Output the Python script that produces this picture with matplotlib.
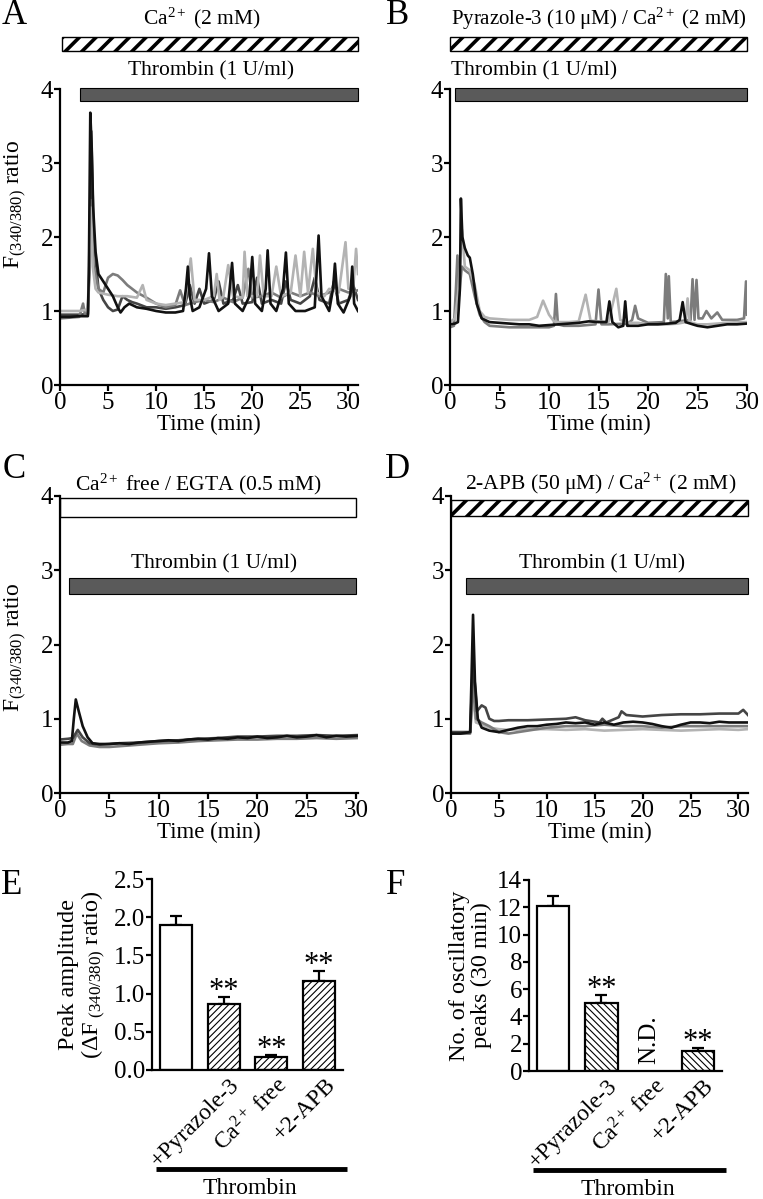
import matplotlib
matplotlib.use("Agg")
import matplotlib.pyplot as plt
from matplotlib.patches import Rectangle
from matplotlib.transforms import ScaledTranslation

plt.rcParams['font.family'] = ['Liberation Serif', 'DejaVu Serif']
plt.rcParams['mathtext.fontset'] = 'custom'
plt.rcParams['mathtext.rm'] = 'Liberation Serif'
plt.rcParams['mathtext.it'] = 'Liberation Serif:italic'

# ---- Panel A: Ca2+ 2 mM ----
a_t_dark = [0, 2, 2.9, 3.05, 3.25, 3.5, 4, 4.5, 5, 5.5, 6, 6.5, 7, 7.5, 8, 9, 10, 11, 12, 13, 13.5, 14, 14.5,
            15, 16, 16.5, 17, 18, 18.5, 19, 20, 20.5, 21, 22, 23, 23.5, 24, 25, 26, 26.5, 27, 28, 28.5, 29, 30, 30.5, 31]
a_y_dark = [0.95, 0.95, 0.96, 1.6, 3.43, 2.0, 1.3, 1.15, 1.05, 1.0, 1.02, 1.2, 1.15, 1.12, 1.1, 1.05, 1.05, 1.03, 1.05,
            1.08, 1.35, 1.1, 1.3, 1.1, 1.15, 1.4, 1.1, 1.15, 1.35, 1.1, 1.12, 1.45, 1.1, 1.15, 1.1, 1.4, 1.15, 1.1, 1.2,
            1.45, 1.15, 1.1, 1.4, 1.1, 1.15, 1.35, 1.15]
a_t_mid = [0, 2, 2.4, 2.6, 2.9, 3.05, 3.2, 3.5, 4, 4.5, 5, 5.5, 6, 6.5, 7, 8, 9, 10, 11, 12, 12.5, 13, 14, 15, 16,
           17, 18, 19, 19.6, 20, 21, 22, 23, 24, 25, 26, 27, 28, 29, 30, 31]
a_y_mid = [0.9, 0.92, 1.1, 0.95, 0.95, 1.5, 2.5, 1.6, 1.3, 1.25, 1.45, 1.5, 1.48, 1.42, 1.35, 1.25, 1.18, 1.1, 1.05,
           1.08, 1.28, 1.08, 1.12, 1.15, 1.12, 1.18, 1.12, 1.18, 1.57, 1.18, 1.2, 1.25, 1.18, 1.25, 1.2, 1.25, 1.2,
           1.25, 1.3, 1.25, 1.28]
a_t_light = [0, 2, 2.9, 3.05, 3.2, 3.4, 3.7, 4, 5, 6, 7, 8, 8.6, 9, 10, 11, 12, 13, 13.6, 14, 15, 16, 16.3, 16.6,
             17, 17.5, 18, 19, 19.2, 19.5, 20.5, 20.8, 21.2, 22, 22.5, 23, 24, 24.5, 25, 25.4, 25.8, 26.3, 26.7,
             27.5, 28, 29, 29.7, 30, 30.5, 30.8, 31]
a_y_light = [1.0, 1.0, 1.02, 1.8, 2.4, 1.6, 1.3, 1.25, 1.22, 1.2, 1.2, 1.18, 1.35, 1.15, 1.1, 1.08, 1.1, 1.12, 1.71,
             1.15, 1.15, 1.2, 1.5, 1.15, 1.2, 1.62, 1.2, 1.18, 1.8, 1.2, 1.2, 1.75, 1.2, 1.2, 1.6, 1.2, 1.25, 1.75,
             1.2, 1.8, 1.25, 1.84, 1.25, 1.2, 1.3, 1.25, 1.93, 1.3, 1.3, 1.84, 1.5]
a_t_black = [0, 1, 2, 2.9, 3.0, 3.15, 3.3, 3.45, 3.7, 4.0, 4.5, 5.0, 5.5, 6.0, 6.3, 6.7, 7.2, 8, 9, 10, 11, 12, 12.8,
             13.1, 13.3, 13.5, 13.8, 14.5, 15.2, 15.5, 15.8, 16.5, 17.5, 17.9, 18.2, 19.0, 19.7, 20.0, 20.3, 21.0,
             21.4, 21.6, 21.9, 22.5, 23.2, 23.5, 23.8, 24.5, 25.5, 26.5, 26.9, 27.2, 28.0, 28.4, 28.6, 28.9, 29.5,
             30.2, 30.4, 30.6, 31]
a_y_black = [0.92, 0.92, 0.93, 0.93, 1.5, 3.68, 3.2, 2.4, 1.8, 1.5, 1.4, 1.3, 1.2, 1.05, 0.98, 1.05, 1.1, 1.05, 1.03,
             1.0, 0.98, 0.98, 1.0, 1.3, 1.6, 1.2, 1.0, 1.05, 1.3, 1.78, 1.2, 1.0, 1.1, 1.65, 1.1, 1.0, 1.2, 1.73, 1.1,
             1.0, 1.3, 1.82, 1.1, 1.0, 1.3, 1.79, 1.1, 1.0, 1.0, 1.05, 2.02, 1.2, 1.0, 1.3, 1.64, 1.1, 0.98, 1.2,
             1.6, 1.1, 1.0]

# ---- Panel B: Pyrazole-3 ----
b_t_dark = [0, 0.4, 0.6, 0.75, 0.9, 1.2, 1.5, 2.0, 2.5, 3.0, 3.5, 4, 6, 8, 10, 10.5, 10.7, 10.9, 11.5, 13, 14.7,
            15.0, 15.3, 16, 18, 18.4, 18.7, 19.0, 20, 21.6, 21.8, 22.0, 22.1, 22.3, 23, 24.3, 24.5, 24.7, 24.9, 25.1,
            25.5, 25.9, 26.4, 27.0, 27.5, 29, 29.7, 29.9, 30]
b_y_dark = [0.78, 0.8, 1.3, 1.75, 1.2, 1.6, 1.55, 1.5, 1.2, 0.95, 0.85, 0.8, 0.78, 0.78, 0.78, 0.8, 1.23, 0.82, 0.8,
            0.8, 0.82, 1.29, 0.82, 0.82, 0.83, 0.88, 1.07, 0.9, 0.84, 0.85, 1.5, 0.9, 1.47, 0.85, 0.86, 0.88, 1.43,
            0.88, 1.42, 0.9, 0.9, 1.0, 0.9, 0.98, 0.88, 0.88, 0.9, 1.4, 0.95]
b_t_light = [0, 0.5, 0.8, 1.0, 1.2, 1.5, 2.0, 2.5, 3.0, 3.5, 4, 5, 6, 7, 8, 8.8, 9.4, 10, 10.5, 11, 12, 13, 13.7,
             14.2, 15, 16, 16.8, 17.2, 18, 19, 20, 21, 22, 23, 23.8, 24.0, 24.2, 25, 26, 27, 28, 29, 30]
b_y_light = [0.85, 0.9, 1.2, 1.6, 2.1, 1.6, 1.55, 1.35, 1.0, 0.92, 0.9, 0.89, 0.88, 0.88, 0.88, 0.92, 1.14, 0.95,
             0.86, 0.85, 0.85, 0.86, 1.22, 0.87, 0.86, 0.85, 1.3, 0.88, 0.84, 0.84, 0.82, 0.82, 0.82, 0.83, 0.85,
             1.17, 0.85, 0.82, 0.82, 0.83, 0.84, 0.85, 0.85]
b_t_black = [0, 0.5, 0.8, 1.0, 1.1, 1.25, 1.5, 1.8, 2.0, 2.3, 2.7, 3.2, 4, 5, 6, 7, 8, 9, 10, 11, 12, 13, 14, 15,
             15.8, 16.1, 16.4, 17, 17.5, 17.7, 17.9, 19, 20, 21, 22, 22.8, 23.2, 23.5, 23.8, 24.5, 25, 26, 27, 28,
             29, 30]
b_y_black = [0.82, 0.83, 0.85, 1.3, 2.52, 2.0, 1.85, 1.75, 1.72, 1.5, 1.1, 0.9, 0.85, 0.84, 0.83, 0.82, 0.82, 0.8,
             0.81, 0.82, 0.83, 0.84, 0.86, 0.85, 0.85, 1.13, 0.85, 0.78, 0.8, 1.13, 0.8, 0.8, 0.82, 0.82, 0.83, 0.84,
             0.88, 1.12, 0.85, 0.82, 0.8, 0.78, 0.8, 0.82, 0.82, 0.83]

# ---- Panel C: Ca2+ free / EGTA ----
c_t_light = [0, 0.8, 1.3, 1.7, 2.2, 3, 4, 5, 6, 8, 10, 12, 14, 16, 18, 20, 22, 24, 26, 28, 30.2]
c_y_light = [0.65, 0.66, 0.66, 0.8, 0.7, 0.64, 0.62, 0.62, 0.63, 0.65, 0.67, 0.68, 0.7, 0.71, 0.72, 0.72, 0.73,
             0.73, 0.74, 0.73, 0.74]
c_t_gray = [0, 0.8, 1.3, 1.8, 2.3, 3, 4, 5, 6, 8, 10, 12, 14, 16, 18, 20, 22, 24, 26, 28, 30.2]
c_y_gray = [0.72, 0.73, 0.74, 0.85, 0.75, 0.67, 0.65, 0.66, 0.67, 0.68, 0.7, 0.71, 0.73, 0.74, 0.76, 0.76, 0.77,
            0.77, 0.78, 0.77, 0.78]
c_t_black = [0, 0.8, 1.2, 1.4, 1.6, 1.9, 2.3, 2.8, 3.3, 4, 5, 6, 7, 8, 9, 10, 11, 12, 13, 14, 15, 16, 17, 18, 19,
             20, 21, 22, 23, 24, 25, 26, 27, 28, 29, 30.2]
c_y_black = [0.68, 0.68, 0.7, 1.0, 1.26, 1.1, 0.9, 0.75, 0.67, 0.66, 0.66, 0.67, 0.66, 0.68, 0.69, 0.7, 0.71, 0.7,
             0.72, 0.73, 0.72, 0.74, 0.73, 0.75, 0.74, 0.76, 0.74, 0.75, 0.77, 0.75, 0.76, 0.78, 0.75, 0.77, 0.76,
             0.77]

# ---- Panel D: 2-APB ----
d_t_light = [0, 2.0, 2.3, 2.6, 3.2, 4, 5, 6, 8, 10, 12, 14, 16, 18, 20, 22, 24, 26, 28, 30, 31]
d_y_light = [0.82, 0.82, 1.3, 0.95, 0.92, 0.88, 0.86, 0.85, 0.86, 0.86, 0.85, 0.86, 0.84, 0.85, 0.86, 0.85, 0.84,
             0.85, 0.86, 0.85, 0.86]
d_t_gray = [0, 2.0, 2.3, 2.6, 3.2, 4, 5, 6, 8, 10, 12, 14, 16, 18, 20, 22, 24, 26, 28, 30, 31]
d_y_gray = [0.8, 0.8, 1.5, 1.0, 0.95, 0.9, 0.82, 0.8, 0.84, 0.88, 0.9, 0.9, 0.92, 0.9, 0.9, 0.88, 0.9, 0.9, 0.9,
            0.9, 0.9]
d_t_dark = [0, 2.0, 2.3, 2.7, 3.2, 3.6, 4, 4.5, 5, 6, 8, 10, 12, 13, 14, 15.5, 15.8, 16.2, 17.5, 17.8, 18.3, 20,
            22, 24, 26, 28, 30, 30.5, 31]
d_y_dark = [0.82, 0.82, 1.8, 1.1, 1.18, 1.15, 1.0, 0.97, 0.97, 0.98, 0.98, 0.99, 1.0, 1.02, 0.98, 0.95, 1.0, 0.95,
            1.02, 1.1, 1.05, 1.03, 1.05, 1.06, 1.06, 1.07, 1.07, 1.12, 1.05]
d_t_black = [0, 1, 2.0, 2.15, 2.3, 2.5, 2.8, 3.2, 4, 5, 6, 7, 8, 9, 10, 11, 12, 13, 14, 15, 16, 17, 18, 19, 20, 21,
             22, 23, 24, 25, 26, 27, 28, 29, 30, 31]
d_y_black = [0.8, 0.8, 0.82, 1.6, 2.4, 1.5, 1.0, 0.88, 0.84, 0.82, 0.85, 0.88, 0.9, 0.9, 0.92, 0.93, 0.95, 0.94,
             0.95, 0.92, 0.95, 0.92, 0.95, 0.96, 0.95, 0.93, 0.9, 0.88, 0.92, 0.95, 0.95, 0.94, 0.96, 0.95, 0.95, 0.95]

# ---- Panels E / F: summary bars ----
bar_labels = ['', '+Pyrazole-3', 'Ca$^{2+}$ free', '+2-APB']
peak_amp = [1.9, 0.87, 0.17, 1.17]
peak_amp_err = [0.11, 0.09, 0.03, 0.13]
osc_peaks = [12.1, 5.0, 0.0, 1.5]
osc_peaks_err = [0.7, 0.6, 0.0, 0.2]
osc_detected = [True, True, False, True]
significant = [False, True, True, True]

W, H = 763, 1199
BLACK, DARK, MID, LIGHT = '#111111', '#454545', '#7c7c7c', '#b3b3b3'


def px_axes(fig, left, top, right, bottom):
    # convert pixel box to figure fractions
    return fig.add_axes([left / W, 1 - bottom / H, (right - left) / W, (bottom - top) / H])


def style_axes(ax):
    for s in ('top', 'right'):
        ax.spines[s].set_visible(False)
    for s in ('left', 'bottom'):
        ax.spines[s].set_linewidth(1.6)
    ax.tick_params(direction='out', length=4, width=1.6, labelsize=18, pad=1)


def add_bar(ax, x0, x1, y0, y1, kind):
    # treatment bar drawn above the traces
    if kind == 'hatch':
        with plt.rc_context({'hatch.linewidth': 2.6}):
            p = Rectangle((x0, y0), x1 - x0, y1 - y0, facecolor='white', edgecolor='black',
                          hatch='//', lw=1.0, clip_on=False)
    elif kind == 'open':
        p = Rectangle((x0, y0), x1 - x0, y1 - y0, facecolor='white', edgecolor='black', lw=1.0, clip_on=False)
    else:
        p = Rectangle((x0, y0), x1 - x0, y1 - y0, facecolor='#5a5a5a', edgecolor='black', lw=0.8, clip_on=False)
    ax.add_patch(p)


def trace_panel(ax, traces, xmax, ylabel):
    for t, y, c in traces:
        ax.plot(t, y, color=c, lw=1.9, solid_joinstyle='round')
    ax.set_xlim(0, xmax)
    ax.set_ylim(0, 4)
    ax.set_xticks([0, 5, 10, 15, 20, 25, 30])
    ax.set_yticks([0, 1, 2, 3, 4])
    style_axes(ax)
    ax.set_xlabel('Time (min)', fontsize=16.5, labelpad=0)
    if ylabel:
        ax.set_ylabel(r'F$_{\rm (340/380)}$ ratio', fontsize=17)


def bar_panel(ax, vals, errs, hatch, ylim, yticks, fmt, ylabel, skip):
    x = list(range(len(vals)))
    for i in x:
        if i in skip:
            continue
        with plt.rc_context({'hatch.linewidth': 0.8}):
            ax.bar(i, vals[i], width=0.67, facecolor='white', edgecolor='black', lw=1.6,
                   hatch=None if i == 0 else hatch, zorder=2)
        ax.errorbar(i, vals[i], yerr=[[0], [errs[i]]], fmt='none', ecolor='black', elinewidth=1.6,
                    capsize=4, capthick=1.6, zorder=1)
        if significant[i]:
            ax.text(i, vals[i] + errs[i] - ylim * 0.01, '**', ha='center', va='baseline', fontsize=22)
    ax.set_xlim(-0.5, 3.5)
    ax.set_ylim(0, ylim)
    ax.set_yticks(yticks)
    ax.set_yticklabels([fmt % v for v in yticks])
    style_axes(ax)
    ax.tick_params(axis='x', length=0)
    ax.set_xticks(x)
    ax.set_xticklabels(bar_labels, rotation=45, ha='right', va='center', rotation_mode='anchor', fontsize=17)
    shift = ScaledTranslation(0.13, -0.10, ax.figure.dpi_scale_trans)
    for lab in ax.get_xticklabels():
        lab.set_transform(lab.get_transform() + shift)
    ax.set_ylabel(ylabel, fontsize=17.5, linespacing=1.05)
    ax.plot([0.02, 1.02], [-0.52, -0.52], transform=ax.transAxes, color='black', lw=3.5,
            clip_on=False, solid_capstyle='butt')
    ax.text(0.51, -0.62, 'Thrombin', transform=ax.transAxes, ha='center', va='center', fontsize=17)


fig = plt.figure(figsize=(W / 100, H / 100), dpi=100)

axA = px_axes(fig, 60, 89, 358, 385)
axB = px_axes(fig, 450, 89, 747, 385)
axC = px_axes(fig, 60, 496, 358, 793)
axD = px_axes(fig, 451, 496, 748, 793)
axE = px_axes(fig, 152, 879, 343, 1070)
axF = px_axes(fig, 529, 880, 722, 1071)

# A
trace_panel(axA, [(a_t_dark, a_y_dark, DARK), (a_t_mid, a_y_mid, MID),
                  (a_t_light, a_y_light, LIGHT), (a_t_black, a_y_black, BLACK)], 31, True)
add_bar(axA, 0.2, 31, 4.51, 4.70, 'hatch')
add_bar(axA, 2.1, 31, 3.84, 4.01, 'solid')
axA.text(14.8, 4.95, 'Ca$^{2+}$ (2 mM)', ha='center', va='center', fontsize=15.5, clip_on=False)
axA.text(15.7, 4.24, 'Thrombin (1 U/ml)', ha='center', va='center', fontsize=15.5, clip_on=False)
axA.yaxis.set_label_coords(-0.105, 0.61)

# B
trace_panel(axB, [(b_t_dark, b_y_dark, MID), (b_t_light, b_y_light, LIGHT),
                  (b_t_black, b_y_black, BLACK)], 30, False)
add_bar(axB, 0, 30, 4.51, 4.70, 'hatch')
add_bar(axB, 0.5, 30, 3.84, 4.01, 'solid')
axB.text(15.0, 4.95, 'Pyrazole-3 (10 μM) / Ca$^{2+}$ (2 mM)', ha='center', va='center', fontsize=15)
axB.text(8.5, 4.24, 'Thrombin (1 U/ml)', ha='center', va='center', fontsize=15.5)

# C
trace_panel(axC, [(c_t_light, c_y_light, MID), (c_t_gray, c_y_gray, DARK),
                  (c_t_black, c_y_black, BLACK)], 30.2, True)
add_bar(axC, 0, 30, 3.72, 3.97, 'open')
add_bar(axC, 0.9, 30, 2.68, 2.89, 'solid')
axC.text(14.0, 4.16, 'Ca$^{2+}$ free / EGTA (0.5 mM)', ha='center', va='center', fontsize=15.5)
axC.text(15.6, 3.09, 'Thrombin (1 U/ml)', ha='center', va='center', fontsize=15.5)
axC.yaxis.set_label_coords(-0.105, 0.49)

# D
trace_panel(axD, [(d_t_light, d_y_light, LIGHT), (d_t_gray, d_y_gray, MID),
                  (d_t_dark, d_y_dark, DARK), (d_t_black, d_y_black, BLACK)], 31, False)
add_bar(axD, 0, 31, 3.73, 3.95, 'hatch')
add_bar(axD, 1.6, 31, 2.68, 2.89, 'solid')
axD.text(15.6, 4.16, '2-APB (50 μM) / Ca$^{2+}$ (2 mM)', ha='center', va='center', fontsize=15.5)
axD.text(15.8, 3.09, 'Thrombin (1 U/ml)', ha='center', va='center', fontsize=15.5)

# E / F
bar_panel(axE, peak_amp, peak_amp_err, '/////', 2.5, [0, 0.5, 1.0, 1.5, 2.0, 2.5], '%.1f',
          'Peak amplitude\n' + r'($\Delta$F$_{\rm\ (340/380)}$ ratio)', [])
nd = [i for i, ok in enumerate(osc_detected) if not ok]
bar_panel(axF, osc_peaks, osc_peaks_err, '\\\\\\\\\\', 14, [0, 2, 4, 6, 8, 10, 12, 14], '%d',
          'No. of oscillatory\npeaks (30 min)', nd)
for i in nd:
    axF.text(i, 0.5, 'N.D.', rotation=90, ha='center', va='bottom', fontsize=18)

# panel letters
for letter, x, y in [('A', 14, 16), ('B', 398, 16), ('C', 14, 470), ('D', 398, 470), ('E', 12, 886), ('F', 396, 886)]:
    fig.text(x / W, 1 - y / H, letter, fontsize=25, ha='center', va='center')

fig.savefig('out.png', dpi=100)
